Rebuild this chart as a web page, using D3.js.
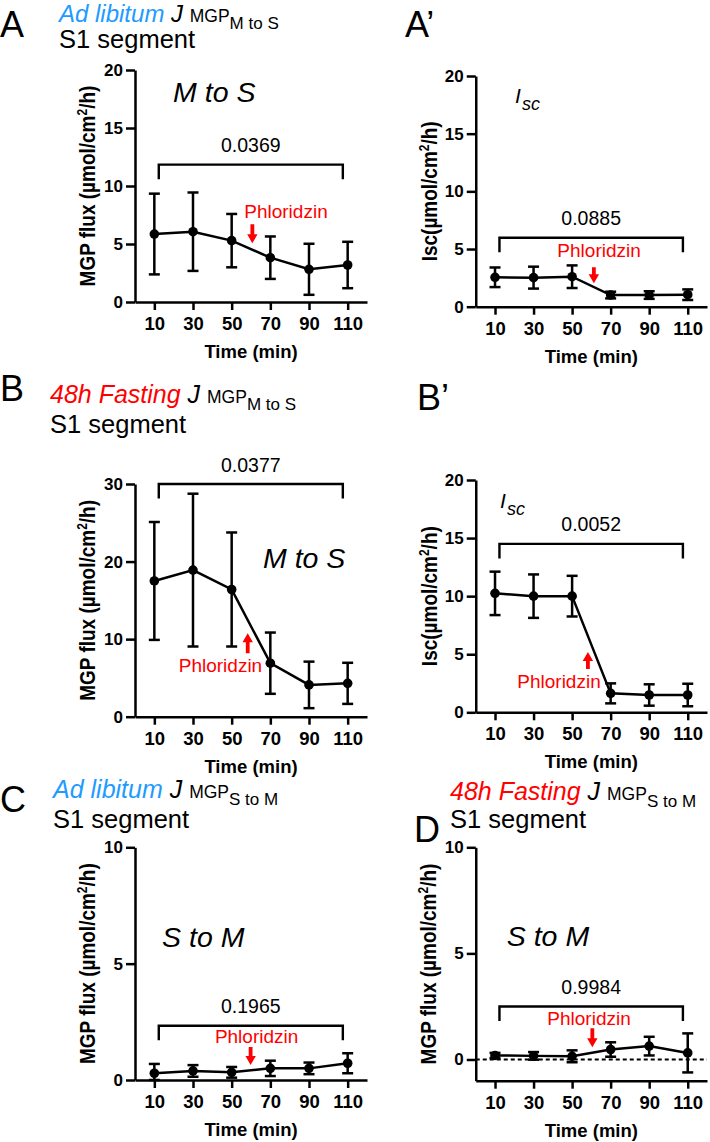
<!DOCTYPE html>
<html><head><meta charset="utf-8">
<script src="https://cdn.jsdelivr.net/npm/d3@7"></script>
<style>
body{margin:0;background:#fff}
text{font-family:"Liberation Sans", Arial, Helvetica, sans-serif}
</style>
</head><body>
<svg id="c" width="710" height="1142" xmlns="http://www.w3.org/2000/svg"></svg>
<script>
// ---------------- data ----------------
const times = [10, 30, 50, 70, 90, 110];
const xTickLabels = ["10", "30", "50", "70", "90", "110"];

const meanA  = [5.86, 6.06, 5.29, 3.82, 2.82, 3.19];
const errA   = [3.48, 3.38, 2.30, 1.83, 2.20, 2.00];
const meanA2 = [2.55, 2.52, 2.60, 1.01, 1.01, 1.04];
const errA2  = [0.85, 0.95, 0.98, 0.29, 0.33, 0.46];
const meanB  = [17.5, 18.9, 16.4, 6.9, 4.1, 4.3];
const errB   = [7.6, 9.85, 7.35, 3.95, 3.0, 2.65];
const meanB2 = [10.24, 10.0, 10.0, 1.63, 1.49, 1.49];
const errB2  = [1.87, 1.87, 1.75, 0.86, 0.92, 0.97];
const meanC  = [0.29, 0.39, 0.33, 0.50, 0.50, 0.72];
const errC   = [0.40, 0.25, 0.23, 0.33, 0.25, 0.43];
const meanD  = [0.19, 0.17, 0.15, 0.47, 0.63, 0.31];
const errD   = [0.12, 0.18, 0.28, 0.34, 0.44, 0.92];

const yTicks20 = [0, 5, 10, 15, 20];
const yTicks30 = [0, 10, 20, 30];
const yTicks10 = [0, 5, 10];

const pValues = ["0.0369", "0.0885", "0.0377", "0.0052", "0.1965", "0.9984"];
const panelLetters = ["A", "A\u2019", "B", "B\u2019", "C", "D"];
const conditions = ["Ad libitum", "48h Fasting"];
const directions = ["M to S", "S to M"];
const drugLabel = "Phloridzin";
const xLabel = "Time (min)";

// ---------------- layout ----------------
const RED = "#ff0000", BLUE = "#1e9bff";
const svg = d3.select("#c");

const panels = [
  {mean: meanA, err: errA, yDom: [0, 20], yTicks: yTicks20, px: [135, 367], py: [302, 70],
   ylab: "mgp", note: {kind: "dir", text: directions[0], x: 19.7, y: 17.2},
   br: 11.84, p: pValues[0], arrow: {x: 60.7, tip: 5.06, dir: "down", len: 19}, lab: {x: 78.1, y: 7.2}},
  {mean: meanA2, err: errA2, yDom: [0, 20], yTicks: yTicks20, px: [475.75, 707], py: [306.7, 76],
   ylab: "isc", note: {kind: "isc", x: 20.4, y: 17.7},
   br: 5.98, p: pValues[1], arrow: {x: 61.3, tip: 2.03, dir: "down", len: 16}, lab: {x: 64.0, y: 4.34}},
  {mean: meanB, err: errB, yDom: [0, 30], yTicks: yTicks30, px: [135, 367], py: [716.7, 484],
   ylab: "mgp", note: {kind: "dir", text: directions[0], x: 66.2, y: 19.2},
   br: 32.1, p: pValues[2], arrow: {x: 58.3, tip: 10.75, dir: "up", len: 20}, lab: {x: 44.2, y: 5.8}},
  {mean: meanB2, err: errB2, yDom: [0, 20], yTicks: yTicks20, px: [475.75, 707], py: [712.3, 480],
   ylab: "isc", note: {kind: "isc", x: 12.6, y: 17.6},
   br: 14.5, p: pValues[3], arrow: {x: 58.2, tip: 5.2, dir: "up", len: 17}, lab: {x: 43.2, y: 2.09}},
  {mean: meanC, err: errC, yDom: [0, 10], yTicks: yTicks10, px: [135, 367], py: [1080, 847.3],
   ylab: "mgp", note: {kind: "dir", text: directions[1], x: 14.0, y: 5.73},
   br: 2.33, p: pValues[4], arrow: {x: 59.8, tip: 0.64, dir: "down", len: 18}, lab: {x: 62.9, y: 1.58}},
  {mean: meanD, err: errD, yDom: [-1, 10], yTicks: yTicks10, px: [475.75, 707], py: [1080.7, 847.3],
   ylab: "mgp", note: {kind: "dir", text: directions[1], x: 16.1, y: 5.33},
   br: 2.5, p: pValues[5], arrow: {x: 60.5, tip: 0.58, dir: "down", len: 19}, lab: {x: 58.8, y: 1.61},
   zeroLine: true}
];

const letterPos = [[0, 37], [405, 37], [0, 401], [417, 410], [0, 812], [414, 842]];

// titles
const titles = [
  {x: 59, y: 22, fs: 24, cond: conditions[0], color: BLUE, sub: directions[0], segY: 48},
  {x: 50, y: 403, fs: 25, cond: conditions[1], color: RED, sub: directions[0], segY: 433},
  {x: 53, y: 798, fs: 25, cond: conditions[0], color: BLUE, sub: directions[1], segY: 828},
  {x: 450, y: 800, fs: 25, cond: conditions[1], color: RED, sub: directions[1], segY: 828}
];

titles.forEach(t => {
  const tx = svg.append("text").attr("x", t.x).attr("y", t.y).attr("font-size", t.fs);
  tx.append("tspan").attr("font-style", "italic").attr("fill", t.color).text(t.cond + " ");
  tx.append("tspan").attr("font-style", "italic").text("J ");
  tx.append("tspan").attr("font-size", 17.5).text("MGP");
  tx.append("tspan").attr("font-size", 17).attr("dy", 7).text(t.sub);
  svg.append("text").attr("x", t.x).attr("y", t.segY)
    .attr("font-size", 25.5).text("S1 segment");
});

panelLetters.forEach((L, i) => {
  svg.append("text").attr("x", letterPos[i][0]).attr("y", letterPos[i][1])
    .attr("font-size", 36).text(L);
});

function yLabel(kind, bx, cy) {
  const t = svg.append("text")
    .attr("transform", `translate(${bx},${cy}) rotate(-90) scale(1,1.17)`)
    .attr("text-anchor", "middle").attr("font-weight", "bold").attr("font-size", 19);
  t.append("tspan").text(kind === "mgp" ? "MGP flux (\u00b5mol/cm" : "Isc(\u00b5mol/cm");
  t.append("tspan").attr("font-size", 12).attr("dy", -7).text("2");
  t.append("tspan").attr("dy", 7).text("/h)");
}

panels.forEach((P, i) => {
  const x = d3.scaleLinear().domain([0, 120]).range(P.px);
  const y = d3.scaleLinear().domain(P.yDom).range(P.py).clamp(true);
  const g = svg.append("g");

  // axes
  const xAxis = d3.axisBottom(x).tickValues(times).tickFormat((d, k) => xTickLabels[k])
    .tickSize(8).tickSizeOuter(0).tickPadding(7);
  const gx = g.append("g").attr("transform", `translate(0,${P.py[0]})`).call(xAxis);
  const yAxis = d3.axisLeft(y).tickValues(P.yTicks).tickSize(9).tickSizeOuter(0).tickPadding(3);
  const gy = g.append("g").attr("transform", `translate(${P.px[0]},0)`).call(yAxis);
  [gx, gy].forEach(a => {
    a.selectAll("path,line").attr("stroke", "#000").attr("stroke-width", 2.5);
    a.selectAll("text").attr("fill", "#000").attr("font-weight", "bold")
      .style("font-family", '"Liberation Sans", Arial, sans-serif');
  });
  gx.selectAll("text").attr("font-size", 18.5);
  gy.selectAll("text").attr("font-size", 17);

  // x label
  g.append("text").attr("x", (P.px[0] + P.px[1]) / 2).attr("y", P.py[0] + 56)
    .attr("text-anchor", "middle").attr("font-weight", "bold").attr("font-size", 18.5).text(xLabel);

  // y label
  yLabel(P.ylab, P.px[0] - (P.ylab === "mgp" ? 40 : 39), (P.py[0] + P.py[1]) / 2);

  // zero line
  if (P.zeroLine) {
    g.append("line").attr("x1", x(0)).attr("x2", x(120)).attr("y1", y(0)).attr("y2", y(0))
      .attr("stroke", "#000").attr("stroke-width", 2.2).attr("stroke-dasharray", "4,3");
  }

  // error bars
  const eb = g.append("g").attr("stroke", "#000").attr("stroke-width", 2.5);
  times.forEach((t, k) => {
    const lo = y(P.mean[k] - P.err[k]), hi = y(P.mean[k] + P.err[k]);
    eb.append("line").attr("x1", x(t)).attr("x2", x(t)).attr("y1", lo).attr("y2", hi);
    eb.append("line").attr("x1", x(t) - 5.5).attr("x2", x(t) + 5.5).attr("y1", lo).attr("y2", lo);
    eb.append("line").attr("x1", x(t) - 5.5).attr("x2", x(t) + 5.5).attr("y1", hi).attr("y2", hi);
  });

  // line
  const line = d3.line().x((d, k) => x(times[k])).y(d => y(d));
  g.append("path").datum(P.mean).attr("d", line).attr("fill", "none")
    .attr("stroke", "#000").attr("stroke-width", 2.5);
  g.selectAll("circle.pt").data(P.mean).join("circle").attr("class", "pt")
    .attr("cx", (d, k) => x(times[k])).attr("cy", d => y(d)).attr("r", 4.8).attr("fill", "#000");

  // bracket
  const by = y(P.br), bx1 = x(12.3), bx2 = x(107.5);
  g.append("path").attr("d", `M${bx1},${by + 14.5}V${by}H${bx2}V${by + 14.5}`)
    .attr("fill", "none").attr("stroke", "#000").attr("stroke-width", 2.4);
  g.append("text").attr("x", (bx1 + bx2) / 2).attr("y", by - 12.5).attr("text-anchor", "middle")
    .attr("font-size", 19.5).text(P.p);

  // arrow
  const ax = x(P.arrow.x), tip = y(P.arrow.tip), s = P.arrow.dir === "down" ? 1 : -1;
  const tail = tip - s * P.arrow.len, hl = 9, hw = 5.2, sw = 1.9;
  g.append("path").attr("fill", RED).attr("d",
    `M${ax - sw},${tail}L${ax + sw},${tail}L${ax + sw},${tip - s * hl}L${ax + hw},${tip - s * hl}` +
    `L${ax},${tip}L${ax - hw},${tip - s * hl}L${ax - sw},${tip - s * hl}Z`);
  g.append("text").attr("x", x(P.lab.x)).attr("y", y(P.lab.y)).attr("text-anchor", "middle")
    .attr("font-size", 19).attr("fill", RED).text(drugLabel);

  // note
  if (P.note.kind === "dir") {
    g.append("text").attr("x", x(P.note.x)).attr("y", y(P.note.y)).attr("font-size", 28.5)
      .attr("font-style", "italic").text(P.note.text);
  } else {
    const t = g.append("text").attr("x", x(P.note.x)).attr("y", y(P.note.y)).attr("font-style", "italic");
    t.append("tspan").attr("font-size", 21).text("I");
    t.append("tspan").attr("font-size", 18).attr("dy", 7.5).attr("dx", 1).text("sc");
  }
});
</script>
</body></html>
